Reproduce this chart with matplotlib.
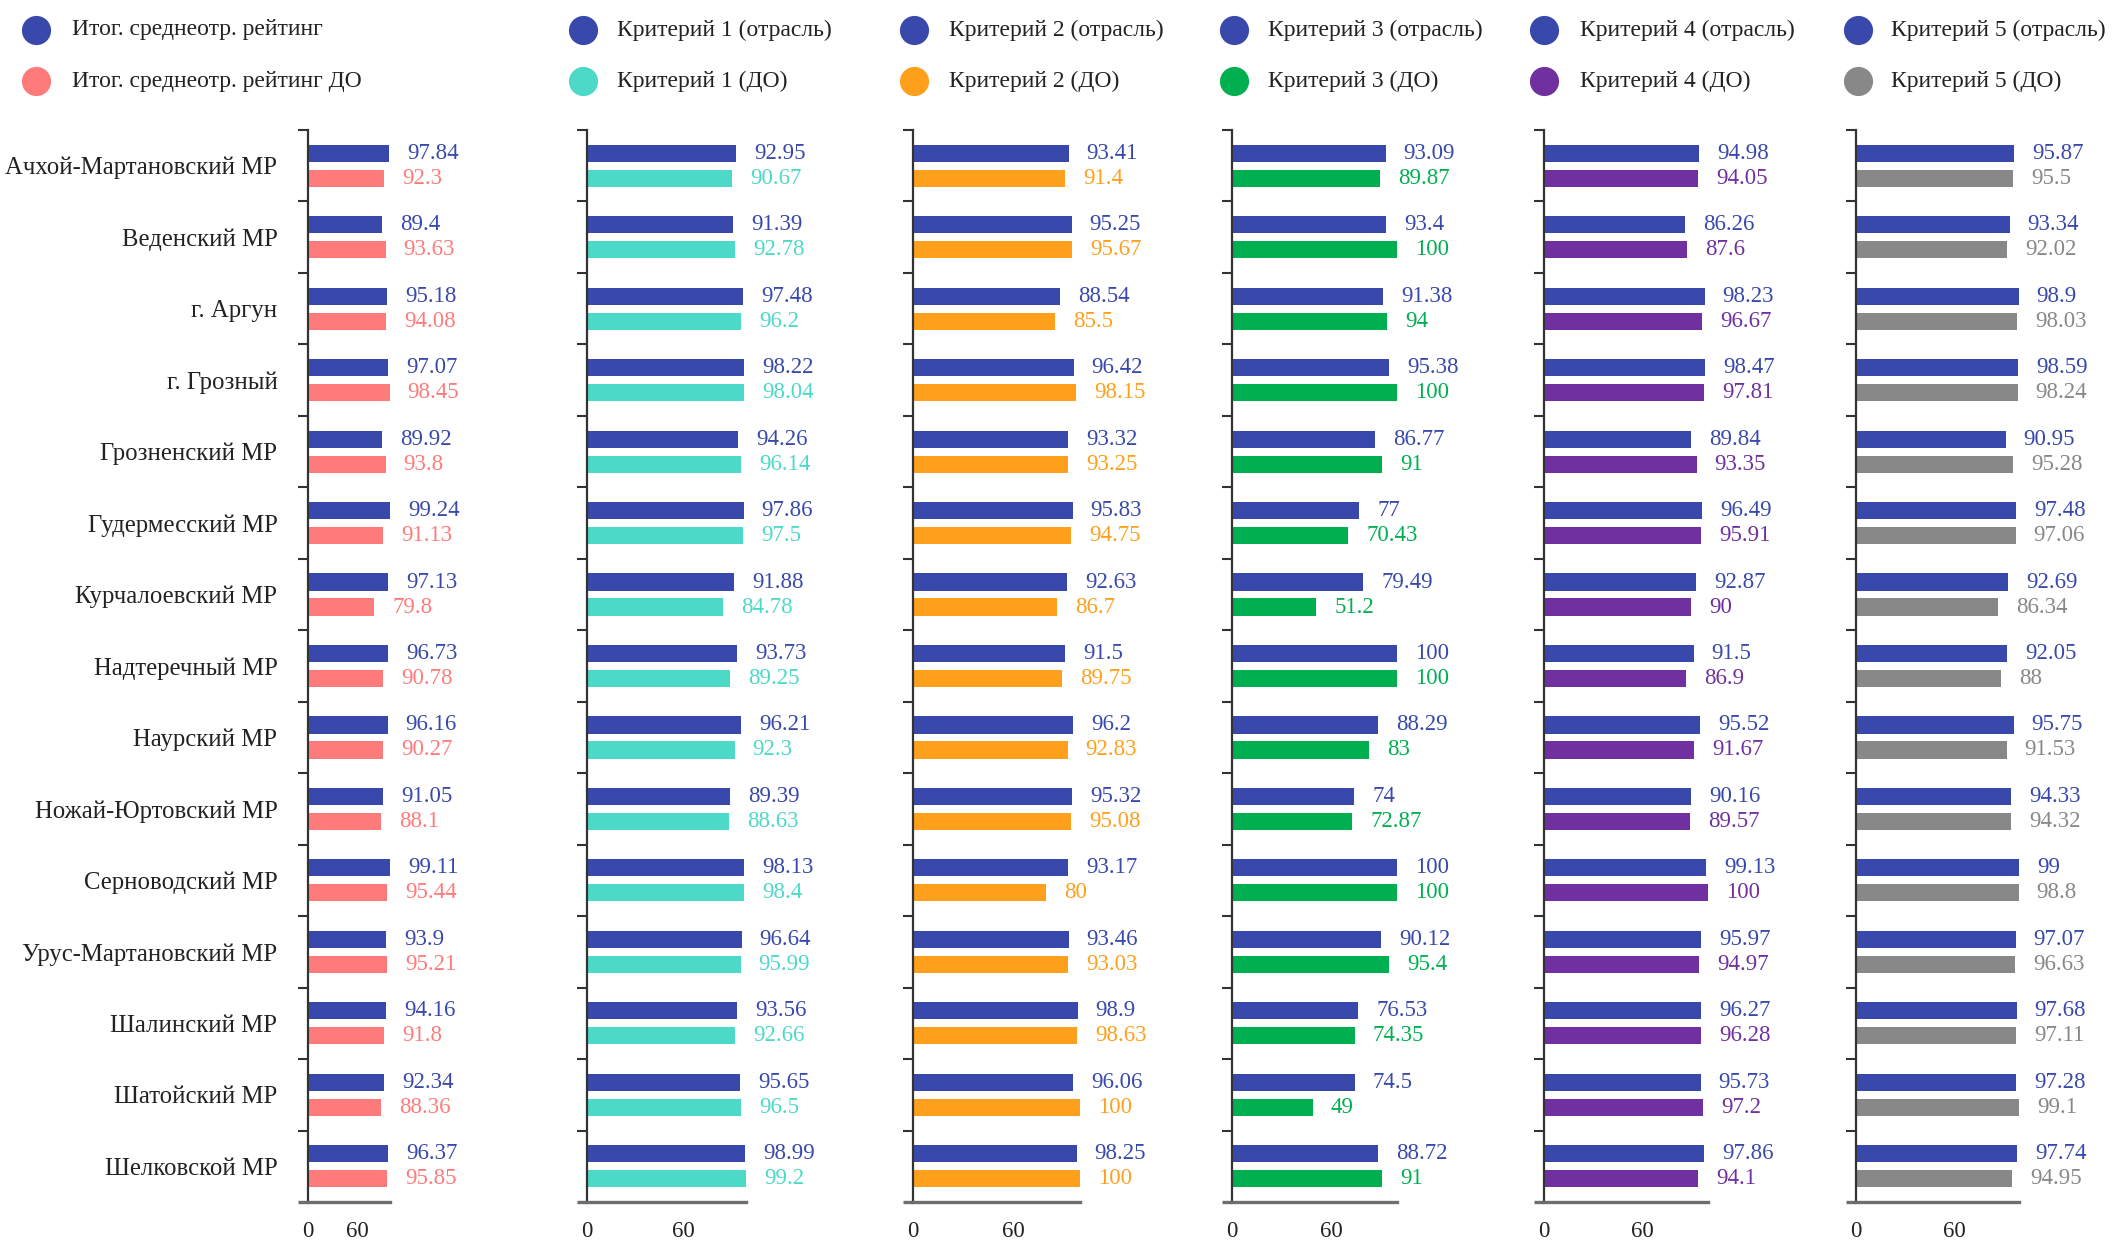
import matplotlib
matplotlib.use("Agg")
import matplotlib.pyplot as plt
from matplotlib.lines import Line2D

plt.rcParams['font.family'] = ['Liberation Serif', 'DejaVu Serif']

categories = ["Ачхой-Мартановский МР", "Веденский МР", "г. Аргун", "г. Грозный",
              "Грозненский МР", "Гудермесский МР", "Курчалоевский МР", "Надтеречный МР",
              "Наурский МР", "Ножай-Юртовский МР", "Серноводский МР", "Урус-Мартановский МР",
              "Шалинский МР", "Шатойский МР", "Шелковской МР"]

total_branch = [97.84, 89.4, 95.18, 97.07, 89.92, 99.24, 97.13, 96.73, 96.16, 91.05, 99.11, 93.9, 94.16, 92.34, 96.37]
total_do = [92.3, 93.63, 94.08, 98.45, 93.8, 91.13, 79.8, 90.78, 90.27, 88.1, 95.44, 95.21, 91.8, 88.36, 95.85]

c1_branch = [92.95, 91.39, 97.48, 98.22, 94.26, 97.86, 91.88, 93.73, 96.21, 89.39, 98.13, 96.64, 93.56, 95.65, 98.99]
c1_do = [90.67, 92.78, 96.2, 98.04, 96.14, 97.5, 84.78, 89.25, 92.3, 88.63, 98.4, 95.99, 92.66, 96.5, 99.2]

c2_branch = [93.41, 95.25, 88.54, 96.42, 93.32, 95.83, 92.63, 91.5, 96.2, 95.32, 93.17, 93.46, 98.9, 96.06, 98.25]
c2_do = [91.4, 95.67, 85.5, 98.15, 93.25, 94.75, 86.7, 89.75, 92.83, 95.08, 80, 93.03, 98.63, 100, 100]

c3_branch = [93.09, 93.4, 91.38, 95.38, 86.77, 77, 79.49, 100, 88.29, 74, 100, 90.12, 76.53, 74.5, 88.72]
c3_do = [89.87, 100, 94, 100, 91, 70.43, 51.2, 100, 83, 72.87, 100, 95.4, 74.35, 49, 91]

c4_branch = [94.98, 86.26, 98.23, 98.47, 89.84, 96.49, 92.87, 91.5, 95.52, 90.16, 99.13, 95.97, 96.27, 95.73, 97.86]
c4_do = [94.05, 87.6, 96.67, 97.81, 93.35, 95.91, 90, 86.9, 91.67, 89.57, 100, 94.97, 96.28, 97.2, 94.1]

c5_branch = [95.87, 93.34, 98.9, 98.59, 90.95, 97.48, 92.69, 92.05, 95.75, 94.33, 99, 97.07, 97.68, 97.28, 97.74]
c5_do = [95.5, 92.02, 98.03, 98.24, 95.28, 97.06, 86.34, 88, 91.53, 94.32, 98.8, 96.63, 97.11, 99.1, 94.95]

legend_branch = ["Итог. среднеотр. рейтинг", "Критерий 1 (отрасль)", "Критерий 2 (отрасль)",
                 "Критерий 3 (отрасль)", "Критерий 4 (отрасль)", "Критерий 5 (отрасль)"]
legend_do = ["Итог. среднеотр. рейтинг ДО", "Критерий 1 (ДО)", "Критерий 2 (ДО)",
             "Критерий 3 (ДО)", "Критерий 4 (ДО)", "Критерий 5 (ДО)"]
x_ticks = [0, 60]

BLUE = "#3949AB"
do_colors = ["#FF7B7B", "#4DD9C7", "#FFA01C", "#00B050", "#7030A0", "#888888"]

panels = [(total_branch, total_do), (c1_branch, c1_do), (c2_branch, c2_do),
          (c3_branch, c3_do), (c4_branch, c4_do), (c5_branch, c5_do)]

W, H = 2116, 1246
fig = plt.figure(figsize=(W / 100, H / 100), dpi=100)
fig.patch.set_facecolor("white")

axis_x = [308, 587, 913, 1232, 1544, 1856]
px_per_unit = [0.828, 1.60, 1.665, 1.65, 1.635, 1.645]
top_px, bot_px = 130, 1202
n = len(categories)

for k, (br, do) in enumerate(panels):
    xmax = max(max(br), max(do))
    wpx = xmax * px_per_unit[k]
    ax = fig.add_axes([axis_x[k] / W, (H - bot_px) / H, wpx / W, (bot_px - top_px) / H])
    ax.set_xlim(0, xmax)
    ax.set_ylim(n, 0)
    ys = [i + 0.5 for i in range(n)]
    yb = [y - 0.175 for y in ys]
    yd = [y + 0.175 for y in ys]
    ax.barh(yb, br, height=0.24, color=BLUE, zorder=2)
    ax.barh(yd, do, height=0.24, color=do_colors[k], zorder=2)
    for y, v in zip(yb, br):
        ax.annotate(f"{v:g}", (v, y), xytext=(13, 0), textcoords="offset points",
                    ha="left", va="center", color=BLUE, fontsize=16.5, annotation_clip=False)
    for y, v in zip(yd, do):
        ax.annotate(f"{v:g}", (v, y), xytext=(13, 0), textcoords="offset points",
                    ha="left", va="center", color=do_colors[k], fontsize=16.5, annotation_clip=False)
    for s in ["top", "right"]:
        ax.spines[s].set_visible(False)
    ax.spines["left"].set_color("#333333")
    ax.spines["left"].set_linewidth(1.6)
    ax.spines["bottom"].set_color("#6e6e6e")
    ax.spines["bottom"].set_linewidth(2.4)
    ax.spines["bottom"].set_zorder(3)
    ax.add_line(Line2D([-10 / wpx, 0], [0, 0], transform=ax.transAxes, color="#6e6e6e",
                       linewidth=2.4, clip_on=False, solid_capstyle="butt"))
    ax.set_xticks(x_ticks)
    ax.set_xticklabels([str(t) for t in x_ticks])
    ax.tick_params(axis="x", length=0, pad=14, labelsize=16.5, labelcolor="#222222")
    ax.set_yticks(list(range(n)), minor=True)
    ax.tick_params(axis="y", which="minor", length=7.5, width=1.5, color="#333333")
    if k == 0:
        ax.set_yticks(ys)
        ax.set_yticklabels(categories)
        ax.tick_params(axis="y", which="major", length=0, pad=22, labelsize=17.8, labelcolor="#222222")
    else:
        ax.set_yticks([])

# legend overlay
lax = fig.add_axes([0, 0, 1, 1])
lax.set_xlim(0, W)
lax.set_ylim(H, 0)
lax.axis("off")
marker_x = [36, 583, 914, 1234, 1544, 1858]
text_x = [72, 617, 949, 1268, 1580, 1891]
rows_y = [30, 81]
for k in range(6):
    lax.plot([marker_x[k]], [rows_y[0]], "o", ms=21, color=BLUE, mec="none")
    lax.plot([marker_x[k]], [rows_y[1]], "o", ms=21, color=do_colors[k], mec="none")
    lax.text(text_x[k], rows_y[0], legend_branch[k], ha="left", va="center", fontsize=17, color="#222222")
    lax.text(text_x[k], rows_y[1], legend_do[k], ha="left", va="center", fontsize=17, color="#222222")

fig.savefig("out.png", dpi=100, facecolor="white")
